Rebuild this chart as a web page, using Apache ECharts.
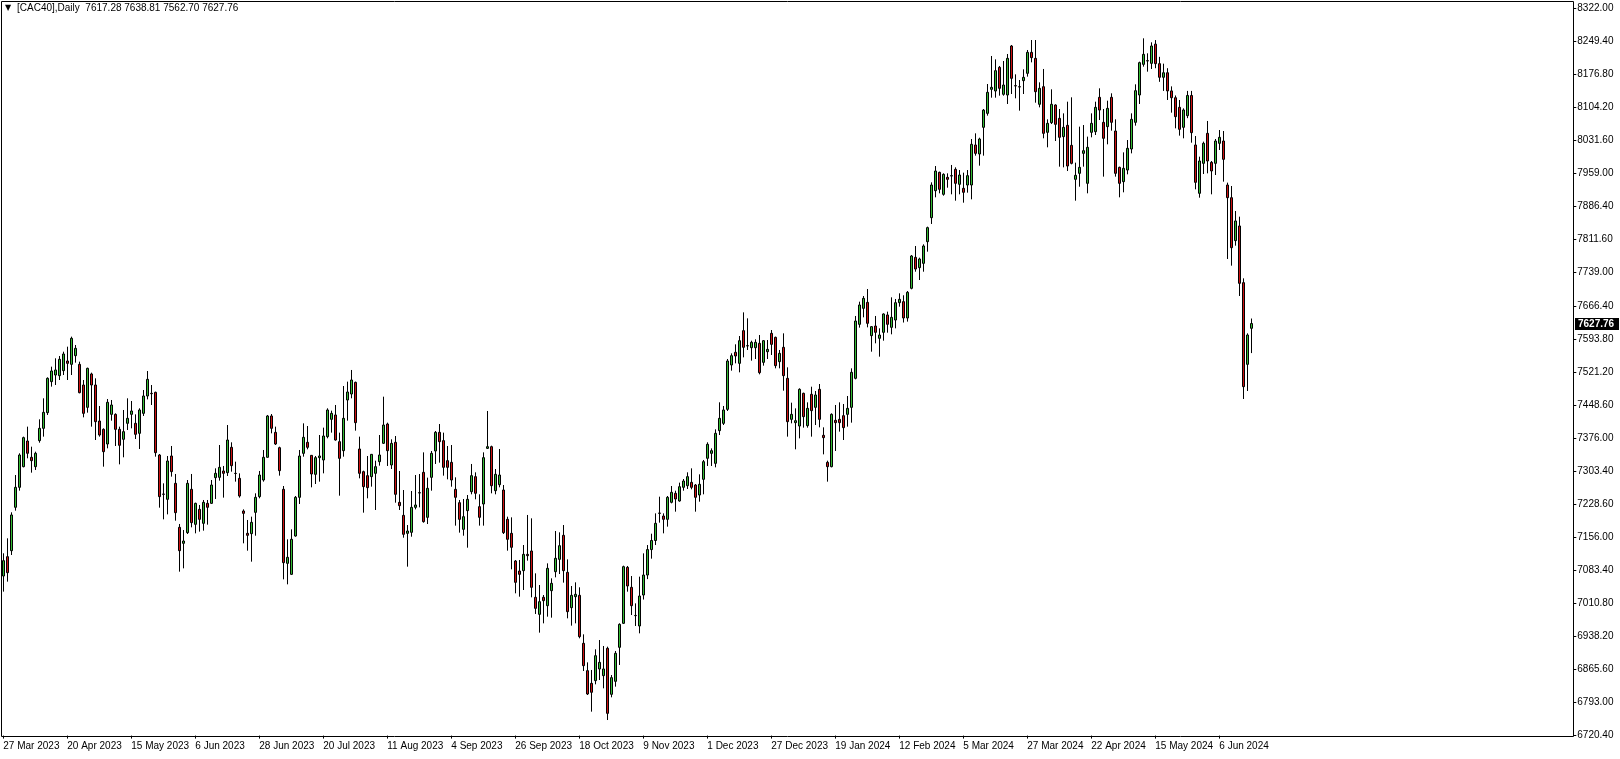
<!DOCTYPE html>
<html><head><meta charset="utf-8">
<script src="https://cdn.jsdelivr.net/npm/echarts@6/dist/echarts.min.js"></script>
<style>html,body{margin:0;padding:0;background:#fff}#c{width:1620px;height:759px}</style>
</head><body><div id="c"></div>
<script>
// ---- data ----
const openP = [
7071.8,7114.4,7127.6,7223.1,7267.1,7312.6,7369.1,7333.2,7312.6,7369.9,
7397.0,7431.5,7499.8,7514.4,7513.0,7524.0,7545.3,7537.9,7557.0,7537.9,
7492.4,7443.2,7516.7,7492.4,7413.1,7394.8,7362.5,7427.8,7427.8,7394.8,
7372.8,7408.0,7427.8,7408.0,7386.0,7430.0,7468.2,7474.1,7476.3,7338.3,
7252.4,7240.7,7336.1,7275.9,7179.0,7143.8,7167.3,7262.7,7185.6,7218.6,
7187.8,7231.8,7231.8,7288.4,7289.1,7303.1,7299.4,7355.2,7297.9,7286.9,
7215.0,7165.8,7165.1,7212.0,7246.6,7283.2,7333.2,7424.2,7388.2,7354.4,
7262.7,7099.7,7075.5,7159.9,7245.1,7341.9,7366.2,7337.5,7295.7,7332.4,
7327.3,7378.7,7416.8,7426.4,7367.6,7347.8,7459.4,7472.6,7498.3,7351.5,
7301.6,7292.8,7290.6,7297.9,7323.6,7364.0,7406.5,7316.3,7366.2,7234.0,
7205.4,7165.8,7168.0,7223.0,7255.3,7300.1,7201.0,7289.1,7347.1,7388.2,
7369.9,7325.8,7322.1,7262.7,7233.3,7174.6,7215.7,7257.5,7290.6,7224.5,
7230.4,7352.9,7356.6,7259.7,7272.9,7261.2,7196.6,7165.8,7104.9,7082.8,
7083.6,7119.5,7126.9,7024.9,6987.4,7024.9,7006.5,7039.5,7081.4,7108.5,
7161.4,7079.9,7002.1,7026.3,7029.3,6923.6,6863.4,6835.5,6841.4,6867.1,
6852.4,6912.6,6811.3,6839.9,6914.8,6967.6,7090.9,7046.9,6984.5,6961.8,
7030.0,7074.0,7130.0,7150.0,7209.8,7203.9,7196.6,7234.1,7253.9,7237.0,
7267.1,7270.7,7278.1,7272.2,7250.2,7284.7,7331.0,7341.9,7319.9,7391.9,
7408.0,7438.8,7536.5,7564.4,7540.1,7612.1,7579.0,7574.6,7574.6,7584.2,
7542.3,7565.8,7606.2,7597.4,7543.8,7575.4,7507.1,7416.8,7409.5,7402.1,
7474.1,7402.9,7471.9,7443.2,7482.9,7381.6,7322.1,7312.6,7414.6,7416.8,
7424.9,7427.8,7443.2,7507.1,7626.0,7661.2,7674.4,7601.1,7622.3,7595.2,
7608.4,7646.6,7619.4,7635.5,7673.7,7676.0,7640.0,7705.3,7773.5,7750.8,
7760.3,7808.0,7860.9,7920.3,7960.7,7912.3,7949.7,7953.4,7967.3,7934.3,
7925.5,7932.8,7932.8,8020.9,8001.1,8059.8,8090.6,8143.5,8139.8,8191.9,
8132.5,8131.0,8238.9,8151.6,8149.3,8162.6,8178.7,8224.9,8211.7,8110.5,
8149.3,8048.8,8070.1,8109.0,8079.6,8039.3,8064.2,8020.2,7945.3,7958.5,
8002.5,7936.5,8048.8,8050.3,8125.9,8070.8,8061.3,8125.9,8051.7,7971.7,
7940.2,7965.8,8012.1,8070.8,8131.0,8198.5,8206.6,8200.7,8243.0,8200.0,
8170.0,8180.0,8140.0,8125.0,8103.9,8059.8,8085.5,8130.0,8020.9,7914.5,
7980.5,8046.6,7982.7,7980.5,8024.6,8029.7,7932.8,7904.9,7810.3,7842.6,
7717.8,7537.9,7617.28];
const highP = [
7121.8,7154.8,7212.1,7294.2,7342.0,7378.7,7400.7,7356.6,7345.6,7416.8,
7463.1,7509.3,7532.8,7551.2,7556.3,7565.8,7576.8,7598.9,7580.5,7543.8,
7503.4,7530.6,7519.6,7507.1,7446.2,7397.0,7461.6,7459.4,7430.0,7400.7,
7437.4,7463.1,7457.2,7427.8,7441.1,7481.4,7523.2,7492.4,7477.7,7340.5,
7275.9,7336.1,7358.1,7296.5,7186.4,7173.1,7283.2,7296.5,7233.3,7228.2,
7239.2,7239.2,7283.2,7308.9,7360.3,7314.1,7404.3,7366.2,7323.6,7297.9,
7218.6,7195.2,7202.5,7253.9,7303.1,7349.3,7426.4,7428.5,7400.7,7356.6,
7270.0,7152.6,7174.6,7248.0,7349.3,7408.0,7402.1,7338.3,7336.1,7382.3,
7398.5,7441.1,7435.9,7448.4,7387.5,7490.2,7499.8,7525.5,7499.8,7378.7,
7303.8,7336.1,7340.5,7325.8,7382.3,7466.7,7409.5,7372.8,7380.1,7303.1,
7261.2,7184.1,7259.0,7294.2,7296.4,7344.1,7288.4,7347.1,7391.1,7406.5,
7387.5,7358.1,7360.3,7289.1,7239.2,7241.4,7250.2,7318.5,7300.1,7251.7,
7344.1,7435.2,7358.8,7307.4,7351.5,7272.2,7202.5,7201.0,7107.1,7107.1,
7140.1,7206.2,7198.8,7077.7,7052.0,7030.0,7099.7,7066.7,7170.9,7168.0,
7184.1,7108.5,7049.8,7057.9,7046.9,6943.4,6881.7,6864.9,6910.4,6930.9,
6917.7,6916.2,6853.8,6906.7,6967.6,7094.6,7093.9,7071.8,7011.6,7070.4,
7121.7,7140.0,7165.0,7209.8,7246.5,7209.8,7248.0,7270.0,7259.7,7277.4,
7285.4,7300.1,7308.9,7274.4,7295.7,7327.3,7366.2,7352.9,7394.8,7454.3,
7446.2,7549.7,7562.1,7582.0,7600.3,7652.4,7639.2,7590.0,7593.0,7602.5,
7591.5,7591.5,7613.5,7598.9,7569.5,7606.2,7531.3,7453.5,7441.0,7485.1,
7475.5,7454.2,7488.7,7479.2,7494.6,7399.2,7325.8,7430.0,7448.4,7454.2,
7450.6,7468.2,7529.1,7644.4,7675.9,7688.4,7703.8,7622.3,7644.4,7617.2,
7650.2,7653.9,7685.5,7681.8,7694.3,7690.0,7699.4,7778.7,7798.5,7772.8,
7802.2,7841.1,7938.7,7974.6,7962.2,7958.5,7958.5,7976.9,7971.7,7965.8,
7960.0,7965.8,8034.1,8046.6,8037.0,8100.2,8155.2,8216.9,8209.5,8194.9,
8205.9,8221.3,8241.1,8176.5,8164.0,8187.5,8230.1,8252.1,8252.1,8158.9,
8188.3,8077.4,8143.5,8110.5,8100.2,8090.6,8116.3,8125.9,7982.0,8061.3,
8064.9,8039.3,8090.6,8116.3,8145.7,8100.2,8118.5,8134.7,8077.4,7973.2,
8004.7,8031.9,8090.6,8154.5,8204.4,8255.8,8222.8,8247.0,8252.0,8215.0,
8200.0,8190.0,8150.0,8130.0,8120.0,8101.6,8140.0,8140.0,8040.7,7995.2,
8028.3,8073.8,7985.7,8034.1,8053.9,8051.7,7938.0,7930.6,7875.6,7863.1,
7727.3,7606.2,7638.81];
const lowP = [
7037.4,7059.4,7118.1,7215.7,7259.8,7311.1,7331.0,7299.4,7305.3,7365.4,
7378.7,7426.4,7488.8,7492.4,7503.4,7514.4,7503.4,7514.4,7541.6,7474.1,
7421.2,7431.5,7400.7,7371.3,7378.7,7312.6,7353.0,7413.9,7358.1,7317.7,
7333.2,7393.3,7397.0,7373.5,7351.5,7424.2,7460.8,7448.4,7334.6,7222.3,
7196.6,7207.6,7290.6,7193.7,7081.4,7088.7,7164.3,7179.0,7165.8,7169.5,
7171.7,7184.9,7230.4,7241.4,7281.8,7244.4,7292.1,7301.6,7279.6,7244.4,
7143.8,7127.6,7103.4,7160.6,7242.9,7279.6,7332.4,7386.0,7360.3,7292.8,
7064.5,7053.5,7074.0,7158.4,7230.4,7334.6,7350.8,7267.1,7274.4,7279.6,
7297.9,7375.0,7387.5,7369.9,7248.7,7334.6,7413.9,7463.1,7391.9,7286.9,
7211.3,7242.9,7268.6,7217.2,7314.8,7362.5,7314.1,7307.4,7233.3,7217.2,
7156.2,7092.4,7158.4,7218.6,7223.0,7189.3,7186.3,7259.7,7318.5,7321.4,
7292.8,7284.7,7268.5,7182.7,7167.3,7160.6,7134.2,7251.7,7240.7,7182.7,
7182.7,7351.5,7253.9,7251.7,7267.1,7164.3,7127.6,7086.5,7033.7,7026.3,
7041.0,7105.6,7024.9,6988.2,6947.1,6967.6,6982.3,6980.1,7068.9,7076.2,
7057.2,6978.6,6962.5,6967.6,6934.6,6862.7,6809.8,6773.1,6833.3,6842.8,
6824.5,6754.7,6804.7,6828.2,6875.9,6966.1,7037.3,6985.9,6961.8,6945.6,
7020.0,7065.0,7110.0,7140.0,7189.3,7165.8,7180.5,7231.8,7213.5,7235.5,
7259.7,7263.4,7262.7,7213.5,7235.5,7251.7,7314.1,7314.1,7311.1,7382.3,
7404.3,7435.2,7524.0,7540.1,7520.3,7553.3,7569.5,7546.0,7549.7,7515.9,
7535.0,7549.7,7558.5,7529.1,7529.1,7479.9,7378.7,7408.0,7350.8,7374.9,
7398.5,7398.5,7378.7,7404.3,7399.2,7339.7,7279.6,7311.1,7347.1,7389.7,
7371.3,7400.7,7409.5,7504.9,7618.7,7641.4,7619.4,7565.8,7584.2,7554.8,
7590.0,7607.6,7604.0,7617.2,7664.9,7630.0,7632.0,7703.1,7741.9,7723.6,
7741.9,7786.0,7847.0,7905.7,7914.5,7909.3,7926.9,7912.3,7898.3,7912.3,
7893.9,7915.9,7901.3,7997.4,7975.4,7997.4,8085.5,8125.1,8125.1,8129.5,
8129.5,8111.2,8133.2,8123.7,8096.5,8133.2,8171.4,8202.9,8114.1,8103.8,
8035.6,8015.8,8067.1,8029.7,7973.2,7971.7,7963.6,7978.3,7898.3,7929.1,
7973.2,7914.5,8037.8,8042.9,8075.9,7951.2,8022.4,8052.5,7951.2,7905.7,
7916.7,7956.3,8002.5,8063.5,8111.2,8193.4,8182.4,8188.3,8190.0,8160.0,
8140.0,8120.0,8092.1,8057.6,8041.5,8035.6,8080.0,8026.0,7923.3,7904.9,
7957.0,7958.5,7912.3,7954.8,8009.9,7940.2,7769.9,7755.2,7799.2,7688.4,
7461.6,7479.2,7562.70];
const closeP = [
7105.6,7079.2,7206.2,7267.1,7338.3,7376.5,7342.0,7325.8,7342.0,7397.0,
7432.2,7507.1,7523.3,7525.5,7549.0,7560.7,7540.1,7595.2,7573.2,7475.5,
7430.0,7529.1,7492.4,7411.7,7382.3,7345.6,7454.3,7448.4,7394.8,7359.6,
7389.7,7419.0,7435.2,7383.8,7437.4,7468.2,7504.9,7473.3,7343.4,7246.6,
7251.7,7325.1,7301.6,7211.3,7127.6,7148.9,7275.9,7189.3,7231.8,7196.6,
7234.0,7223.1,7272.2,7297.9,7311.1,7297.9,7371.3,7314.8,7297.5,7248.0,
7209.8,7161.4,7190.0,7245.1,7294.2,7333.2,7424.2,7397.0,7362.5,7303.8,
7101.2,7113.0,7152.6,7245.1,7336.1,7377.2,7355.2,7296.5,7332.4,7336.1,
7380.1,7437.4,7430.0,7371.3,7330.9,7419.0,7477.0,7503.4,7409.5,7297.9,
7268.6,7266.4,7339.7,7312.6,7338.3,7404.3,7347.8,7363.9,7251.7,7226.7,
7163.6,7170.9,7223.0,7228.2,7254.6,7191.5,7264.9,7341.9,7388.2,7367.6,
7311.1,7311.1,7283.2,7245.1,7196.6,7202.5,7240.7,7292.8,7253.9,7201.0,
7332.4,7356.6,7270.7,7295.7,7294.2,7167.3,7152.6,7135.0,7057.9,7075.5,
7119.5,7116.6,7046.9,7000.6,7015.3,7017.5,7088.7,7055.7,7110.8,7138.6,
7083.6,6993.3,7029.3,7031.5,6938.3,6874.4,6812.0,6815.7,6896.4,6881.7,
6867.1,6769.4,6848.0,6901.6,6965.4,7092.4,7049.8,7006.5,6985.0,7027.8,
7074.0,7130.0,7150.0,7187.8,7210.5,7196.6,7245.1,7256.1,7241.4,7268.5,
7281.0,7290.6,7267.1,7245.1,7273.7,7323.6,7361.8,7347.8,7386.0,7419.0,
7437.4,7545.3,7557.0,7556.3,7590.0,7575.4,7578.5,7586.4,7586.4,7519.6,
7590.0,7570.9,7581.9,7535.0,7562.1,7513.0,7411.7,7427.8,7413.9,7482.9,
7422.7,7441.0,7435.9,7470.4,7416.8,7376.5,7312.6,7427.8,7409.5,7409.5,
7398.5,7441.0,7520.3,7633.3,7668.6,7683.2,7628.2,7620.9,7608.4,7602.5,
7648.8,7626.0,7641.4,7673.7,7681.1,7640.0,7696.5,7776.5,7747.8,7769.9,
7798.5,7838.9,7932.8,7963.6,7923.3,7956.3,7945.3,7952.6,7936.5,7954.8,
7916.7,7953.4,8022.4,8002.5,8034.1,8097.7,8136.9,8147.9,8184.6,8145.7,
8153.0,8211.7,8167.7,8150.9,8148.6,8169.9,8224.9,8213.2,8138.3,8145.7,
8046.6,8068.6,8110.5,8066.4,8037.8,8059.8,7974.6,7980.5,7954.1,7971.7,
8008.4,8015.8,8068.6,8103.8,8097.9,8035.6,8101.6,8070.8,7958.5,7936.5,
7969.5,8013.6,8077.4,8140.5,8202.2,8220.5,8205.9,8238.9,8200.0,8170.0,
8180.0,8140.0,8125.0,8083.3,8055.4,8098.0,8130.0,8048.1,7938.7,7985.7,
8024.6,7985.7,7963.7,8029.7,8037.8,7989.3,7904.9,7794.8,7853.6,7716.3,
7488.8,7602.5,7627.76];

const yTickLabels = ['6720.40','6793.00','6865.60','6938.20','7010.80','7083.40','7156.00','7228.60',
  '7303.40','7376.00','7448.60','7521.20','7593.80','7666.40','7739.00','7811.60','7886.40',
  '7959.00','8031.60','8104.20','8176.80','8249.40','8322.00'];
const yMin = 6720.4, yMax = 8322.0;
const startDate = '2023-03-27';
const holidays = ['2023-04-07','2023-04-10','2023-05-01','2023-12-25','2023-12-26','2024-01-01',
  '2024-03-29','2024-04-01','2024-05-01','2024-12-25','2024-12-26'];
const headerText = '[CAC40],Daily  7617.28 7638.81 7562.70 7627.76';
const lastPrice = 7627.76;
const totalSlots = 393;   // bar slots visible across the chart (incl. empty right margin)
const labelEvery = 16;

// ---- build ----
const months = ['Jan','Feb','Mar','Apr','May','Jun','Jul','Aug','Sep','Oct','Nov','Dec'];
const cats = [];
(function(){
  const p = startDate.split('-').map(Number);
  const d = new Date(Date.UTC(p[0], p[1]-1, p[2]));
  while (cats.length < totalSlots) {
    const iso = d.toISOString().slice(0,10);
    const dow = d.getUTCDay();
    if (dow !== 0 && dow !== 6 && holidays.indexOf(iso) < 0) cats.push(iso);
    d.setUTCDate(d.getUTCDate()+1);
  }
})();
const nBars = openP.length;
const candles = [];
for (let i = 0; i < nBars; i++) candles.push([openP[i], closeP[i], lowP[i], highP[i]]);

function fmtDate(s){ const a = s.split('-'); return (+a[2]) + ' ' + months[+a[1]-1] + ' ' + a[0]; }
function showIdx(idx){ return idx < nBars && idx % labelEvery === 0; }

const chart = echarts.init(document.getElementById('c'), null, {renderer:'canvas'});
const FONT = 'Liberation Sans';
chart.setOption({
  animation: false,
  backgroundColor: '#ffffff',
  grid: { left: 1.3, right: 46.7, top: 8.26, bottom: 23.4, outerBoundsMode: 'none', containLabel: false },
  xAxis: {
    type: 'category', data: cats, boundaryGap: true,
    axisLine: { show: false },
    axisTick: { show: true, interval: function(idx){ return showIdx(idx); }, alignWithLabel: true, length: 3, lineStyle: { color: '#000' } },
    axisLabel: {
      interval: function(idx){ return showIdx(idx); }, align: 'left', margin: 6, color: '#000', fontSize: 10, fontFamily: FONT,
      formatter: function(v){ return fmtDate(v); }
    },
    splitLine: { show: false }
  },
  yAxis: [
    { type: 'value', min: yMin, max: yMax, show: false, splitLine: { show: false } },
    { type: 'value', min: 0, max: yTickLabels.length-1, interval: 1, position: 'right',
      axisLine: { show: true, lineStyle: { color: '#000', width: 1 } },
      axisTick: { show: true, length: 3, lineStyle: { color: '#000' } },
      axisLabel: { margin: 4, color: '#000', fontSize: 10, fontFamily: FONT,
        formatter: function(v){ return yTickLabels[Math.round(v)]; } },
      splitLine: { show: false } }
  ],
  series: [{
    type: 'candlestick', yAxisIndex: 0, data: candles, barWidth: 2,
    itemStyle: { color: '#33bb33', color0: '#cc1111', borderColor: '#000', borderColor0: '#000', borderWidth: 1 }
  }]
});

// current-price tag on the price scale, positioned through the library's own y scale
const py = Math.round(chart.convertToPixel({ yAxisIndex: 0 }, lastPrice));
chart.setOption({
  graphic: [
    { id: 'frame', type: 'rect', silent: true, z: 100, shape: { x: 1.5, y: 1.5, width: 1572, height: 735 },
      style: { fill: 'none', stroke: '#000', lineWidth: 1 } },
    { id: 'tri', type: 'text', silent: true, z: 100, x: 5, y: 4, style: { text: '▼', fontSize: 8, fill: '#000', fontFamily: 'DejaVu Sans' } },
    { id: 'hdr', type: 'text', silent: true, z: 100, x: 17, y: 3, style: { text: headerText, fontSize: 10, fill: '#000', fontFamily: FONT } },
    { id: 'tagbox', type: 'rect', silent: true, z: 110, shape: { x: 1575, y: py - 6, width: 44, height: 12 },
      style: { fill: '#000' } },
    { id: 'tagtxt', type: 'text', silent: true, z: 111, x: 1578, y: py - 5,
      style: { text: lastPrice.toFixed(2), fontSize: 10, fill: '#fff', fontFamily: FONT, fontWeight: 'bold' } }
  ]
});
</script>
</body></html>
